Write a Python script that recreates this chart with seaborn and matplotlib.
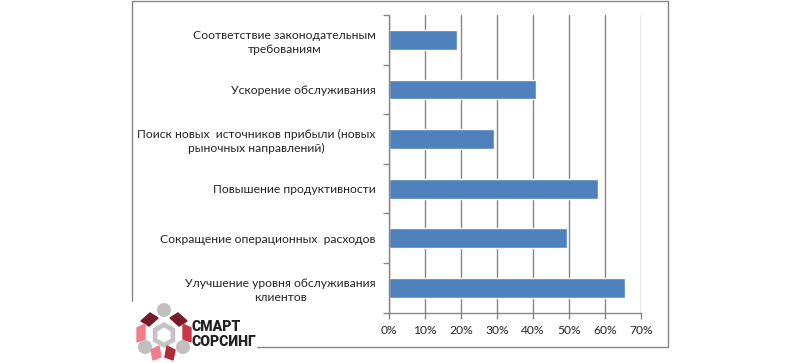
import numpy as np
import pandas as pd
import seaborn as sns
import matplotlib.pyplot as plt
from matplotlib.patches import Rectangle, Polygon, Circle, RegularPolygon
from matplotlib.ticker import FixedLocator, PercentFormatter

# ------------------------------
# данные
# ------------------------------
kategorii = [
    'Соответствие законодательным\nтребованиям',
    'Ускорение обслуживания',
    'Поиск новых  источников прибыли (новых\nрыночных направлений)',
    'Повышение продуктивности',
    'Сокращение операционных  расходов',
    'Улучшение уровня обслуживания\nклиентов',
]
znacheniya = [19.0, 40.7, 29.2, 58.0, 49.4, 65.5]
x_ticks = [0, 10, 20, 30, 40, 50, 60, 70]

df = pd.DataFrame({'kat': kategorii, 'val': znacheniya})

sns.set_style('white')
plt.rcParams['font.family'] = ['Lato', 'DejaVu Sans']

W, H = 800, 363
fig = plt.figure(figsize=(8, 3.63), dpi=100)

# рамка диаграммы
fig.patches.append(Rectangle((132 / W, 1 - 347 / H), (668 - 132) / W, (347 - 1) / H,
                             transform=fig.transFigure, fill=False,
                             edgecolor='#868686', lw=1.0))

ax = fig.add_axes([389 / W, 1 - 312.7 / H, (641 - 389) / W, (312.7 - 15) / H])
sns.barplot(data=df, x='val', y='kat', orient='h', color='#4F81BD',
            width=0.4, saturation=1, ax=ax)

ax.set_xlim(0, 70)
ax.set_ylim(5.5, -0.5)
ax.set_xticks(x_ticks)
ax.xaxis.set_major_formatter(PercentFormatter(decimals=0))
ax.grid(axis='x', color='#868686', lw=1.0)
ax.set_axisbelow(True)
ax.set_xlabel('')
ax.set_ylabel('')

for s in ['top', 'right']:
    ax.spines[s].set_visible(False)
for s in ['left', 'bottom']:
    ax.spines[s].set_color('#868686')
    ax.spines[s].set_linewidth(1.0)

ax.yaxis.set_minor_locator(FixedLocator(np.arange(-0.5, 6, 1)))
ax.tick_params(axis='y', which='major', length=0, pad=9.5, labelsize=8.7)
ax.tick_params(axis='y', which='minor', length=4, color='#868686', width=1, left=True)
ax.tick_params(axis='x', which='major', length=4, color='#868686', width=1,
               bottom=True, labelsize=8.7, pad=5)
for t in ax.get_yticklabels():
    t.set_multialignment('center')
    t.set_linespacing(1.35)

# ------------------------------
# логотип
# ------------------------------
lax = fig.add_axes([0, 0, 1, 1], zorder=5)
lax.set_xlim(0, W)
lax.set_ylim(H, 0)
lax.axis('off')
lax.add_patch(Rectangle((128, 302), 128, 61, color='white', zorder=0))

cx, cy = 164, 335
lax.add_patch(RegularPolygon((cx, cy), 6, radius=13, orientation=0,
                             facecolor='#c4c4c4', edgecolor='none', zorder=2))
lax.add_patch(RegularPolygon((cx, cy), 6, radius=7.5, orientation=0,
                             facecolor='white', edgecolor='none', zorder=3))
for (px, py) in [(164, 310), (145, 347), (183, 347)]:
    lax.add_patch(Circle((px, py), 6.3, color='#c0c0c0', zorder=2))

lax.add_patch(Polygon([(141, 321), (150, 313), (158, 318), (149, 326)], color='#7a1a28', zorder=2))
lax.add_patch(Polygon([(170, 318), (178, 313), (187, 321), (179, 326)], color='#7a1a28', zorder=2))
lax.add_patch(Polygon([(137, 328), (145, 324), (145, 339), (137, 342)], color='#ee7f88', zorder=2))
lax.add_patch(Polygon([(183, 324), (191, 328), (191, 342), (183, 339)], color='#c8384a', zorder=2))
lax.add_patch(Polygon([(151, 350), (159, 346), (161, 357), (153, 360)], color='#ee7f88', zorder=2))
lax.add_patch(Polygon([(167, 346), (175, 350), (173, 360), (165, 357)], color='#b02a3c', zorder=2))

for yy, slovo in [(327, 'СМАРТ'), (341.5, 'СОРСИНГ')]:
    lax.text(192, yy, slovo, fontsize=10.2, fontweight='black',
             family=['Roboto', 'DejaVu Sans'], color='#222222',
             va='center', ha='left', zorder=4)

fig.savefig('out.png', dpi=100)
